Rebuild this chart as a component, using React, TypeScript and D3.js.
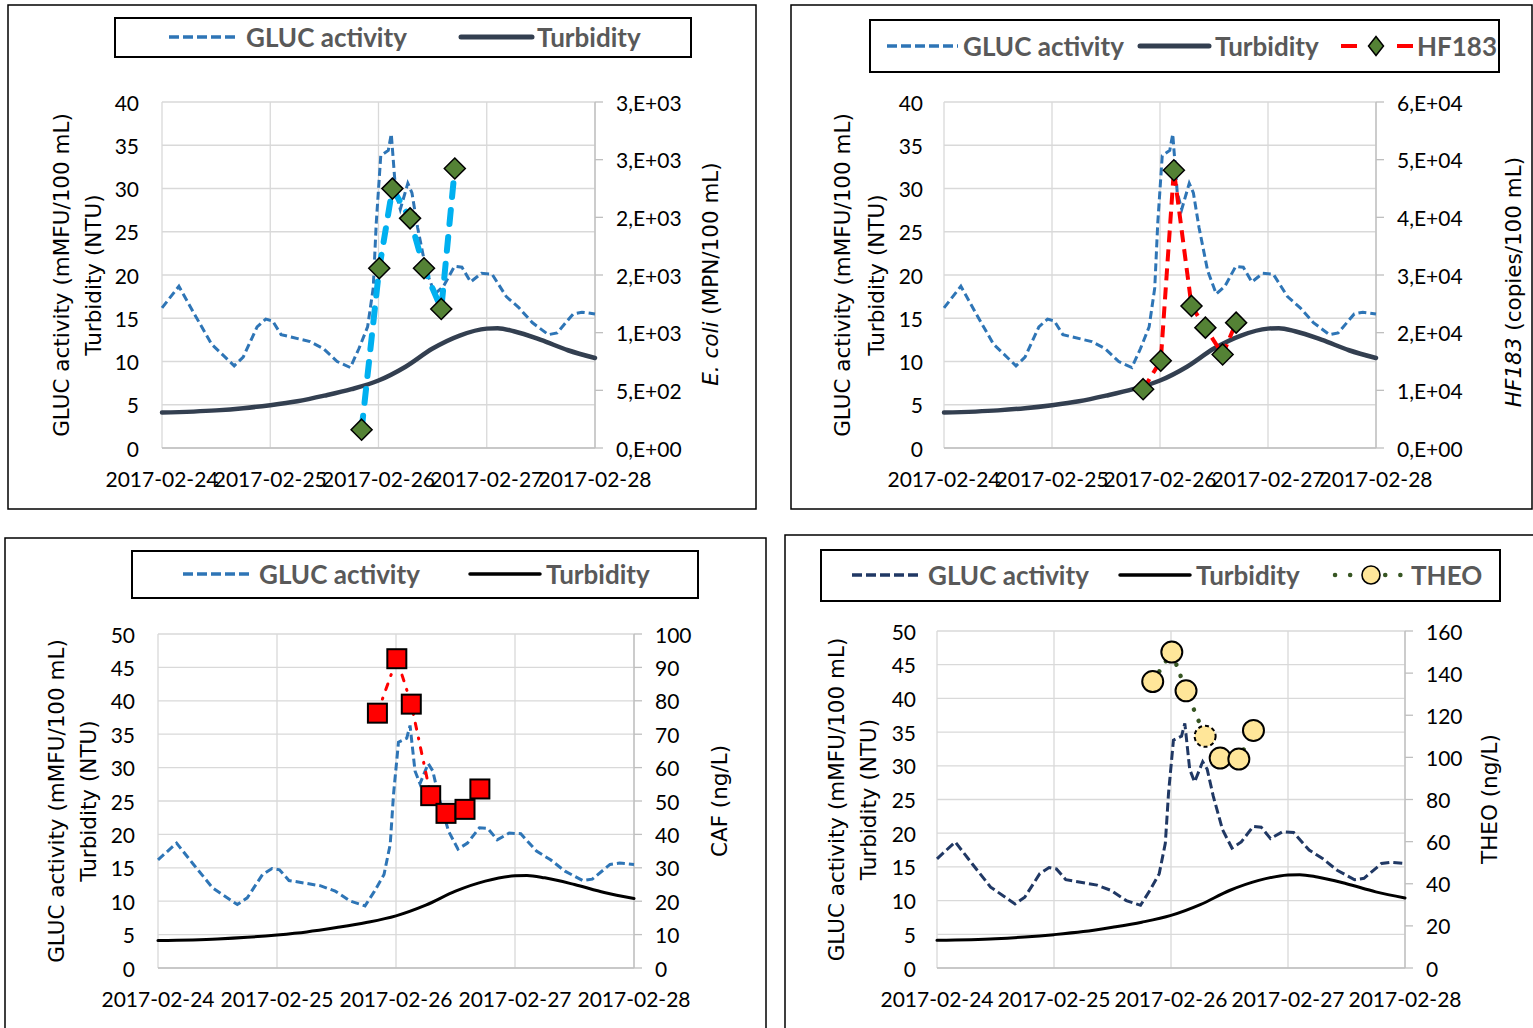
import React from 'react';
import * as d3 from 'd3';

const parseTime = d3.timeParse('%Y-%m-%d %H:%M');

// --- GLUC activity (online sensor) ---
const glucTimes = [
  '2017-02-24 00:00', '2017-02-24 03:45', '2017-02-24 07:10', '2017-02-24 11:00', '2017-02-24 16:00',
  '2017-02-24 18:00', '2017-02-24 21:05', '2017-02-24 23:00', '2017-02-25 00:30', '2017-02-25 02:25',
  '2017-02-25 04:50', '2017-02-25 08:50', '2017-02-25 11:45', '2017-02-25 14:50', '2017-02-25 17:45',
  '2017-02-25 19:40', '2017-02-25 21:35', '2017-02-25 22:50', '2017-02-25 23:30', '2017-02-26 00:30',
  '2017-02-26 02:10', '2017-02-26 02:50', '2017-02-26 03:50', '2017-02-26 04:50', '2017-02-26 06:30',
  '2017-02-26 07:25', '2017-02-26 08:40', '2017-02-26 10:35', '2017-02-26 12:30', '2017-02-26 14:25',
  '2017-02-26 16:50', '2017-02-26 18:30', '2017-02-26 20:25', '2017-02-26 22:50', '2017-02-27 01:10',
  '2017-02-27 04:20', '2017-02-27 07:10', '2017-02-27 10:05', '2017-02-27 13:40', '2017-02-27 15:35',
  '2017-02-27 19:10', '2017-02-27 21:05', '2017-02-28 00:00',
];
const glucValues = [
  16.2, 18.7, 15.5, 12.0, 9.5,
  10.5, 14.0, 14.9, 14.7, 13.1,
  12.8, 12.3, 11.5, 10.0, 9.3,
  11.5, 14.0, 18.5, 26.0, 33.8,
  34.4, 36.3, 29.5, 27.6, 30.6,
  29.5, 25.5, 20.5, 17.8, 18.7,
  21.0, 20.9, 19.2, 20.2, 20.1,
  17.5, 16.2, 14.5, 13.1, 13.3,
  15.5, 15.7, 15.5,
];

// --- Turbidity ---
const turbTimes = [
  '2017-02-24 00:00', '2017-02-24 12:00', '2017-02-24 18:00', '2017-02-25 00:00', '2017-02-25 06:00',
  '2017-02-25 12:00', '2017-02-25 18:00', '2017-02-26 00:00', '2017-02-26 06:00', '2017-02-26 12:00',
  '2017-02-26 18:00', '2017-02-27 00:00', '2017-02-27 02:25', '2017-02-27 06:00', '2017-02-27 12:00',
  '2017-02-27 18:00', '2017-02-28 00:00',
];
const turbValues = [
  4.1, 4.35, 4.6, 4.95, 5.4,
  6.05, 6.8, 7.8, 9.4, 11.5,
  13.0, 13.8, 13.85, 13.5, 12.5,
  11.3, 10.4,
];

// --- grab samples ---
const sampleTimes = [
  '2017-02-25 20:15', '2017-02-26 00:10', '2017-02-26 03:05', '2017-02-26 07:00',
  '2017-02-26 10:05', '2017-02-26 13:55', '2017-02-26 16:55',
];
const ecoliValues = [159, 1559, 2249, 1991, 1559, 1206, 2423];
const hf183Values = [10200, 15130, 48170, 24640, 20870, 16230, 21740];
const cafValues = [76.3, 92.6, 79, 51.6, 46.3, 47.5, 53.6];
const theoValues = [136, 150, 131.6, 110, 99.7, 99.2, 112.8];

// --- axes ---
const dateLabels = ['2017-02-24', '2017-02-25', '2017-02-26', '2017-02-27', '2017-02-28'];
const leftTicksTop = [0, 5, 10, 15, 20, 25, 30, 35, 40];
const leftTicksBottom = [0, 5, 10, 15, 20, 25, 30, 35, 40, 45, 50];
const ecoliTicks = [0, 500, 1000, 1500, 2000, 2500, 3000];
const ecoliTickLabels = ['0,E+00', '5,E+02', '1,E+03', '2,E+03', '2,E+03', '3,E+03', '3,E+03'];
const hf183Ticks = [0, 10000, 20000, 30000, 40000, 50000, 60000];
const hf183TickLabels = ['0,E+00', '1,E+04', '2,E+04', '3,E+04', '4,E+04', '5,E+04', '6,E+04'];
const cafTicks = [0, 10, 20, 30, 40, 50, 60, 70, 80, 90, 100];
const theoTicks = [0, 20, 40, 60, 80, 100, 120, 140, 160];

const TICK_FONT = 'Lato, sans-serif';
const LEGEND_FONT = 'Lato, sans-serif';
const TITLE_FONT = '"DejaVu Sans", Verdana, sans-serif';

type Pt = { t: Date; v: number };
const zip = (times: string[], vals: number[]): Pt[] =>
  times.map((s, i) => ({ t: parseTime(s) as Date, v: vals[i] }));

const glucData = zip(glucTimes, glucValues);
const turbData = zip(turbTimes, turbValues);

type MarkerKind = 'diamond' | 'square' | 'circle';

const Marker = ({ kind, x, y, dashed = false, small = false }: { kind: MarkerKind; x: number; y: number; dashed?: boolean; small?: boolean }) => {
  if (kind === 'diamond') {
    const sx = small ? 7.5 : 10.5;
    const sy = small ? 9.5 : 10.5;
    return <path d={`M${x},${y - sy}L${x + sx},${y}L${x},${y + sy}L${x - sx},${y}Z`} fill="#548235" stroke="#000" strokeWidth={1.5} />;
  }
  if (kind === 'square') {
    const s = 9.5;
    return <rect x={x - s} y={y - s} width={2 * s} height={2 * s} fill="#FF0000" stroke="#000" strokeWidth={2} />;
  }
  return (
    <circle cx={x} cy={y} r={small ? 9 : 10.5} fill="#FFE699" stroke="#000"
      strokeWidth={small ? 1.6 : 2} strokeDasharray={dashed ? '4 3' : undefined} />
  );
};

type LegendItem = { kind: 'gluc' | 'turb' | 'hf' | 'theo'; x0: number; x1: number; tx: number; label: string; mx?: number };

type PanelProps = {
  frame: [number, number, number, number];
  legendBox: [number, number, number, number];
  legendY: number;
  legendItems: LegendItem[];
  plot: [number, number, number, number];
  leftMax: number;
  leftTicks: number[];
  leftLabelRight: number;
  leftTitleX: [number, number];
  rightMax: number;
  rightTicks: number[];
  rightLabels: string[];
  rightTitle: React.ReactNode;
  rightTitleX: number;
  rightTitleY: number;
  glucColor: string;
  glucDash: string;
  turbColor: string;
  turbWidth: number;
  sample: {
    values: number[];
    color: string;
    width: number;
    dash: string;
    cap: 'round' | 'butt';
    marker: MarkerKind;
    dashedIndex?: number;
  };
};

const Panel = (p: PanelProps) => {
  const [px0, py0, px1, py1] = p.plot;
  const x = d3.scaleTime()
    .domain([parseTime('2017-02-24 00:00') as Date, parseTime('2017-02-28 00:00') as Date])
    .range([px0, px1]);
  const yL = d3.scaleLinear().domain([0, p.leftMax]).range([py1, py0]);
  const yR = d3.scaleLinear().domain([0, p.rightMax]).range([py1, py0]);

  const lineL = d3.line<Pt>().x(d => x(d.t)).y(d => yL(d.v));
  const turbLine = d3.line<Pt>().x(d => x(d.t)).y(d => yL(d.v)).curve(d3.curveMonotoneX);
  const sampleData = zip(sampleTimes, p.sample.values);
  const lineR = d3.line<Pt>().x(d => x(d.t)).y(d => yR(d.v));

  const cy = (py0 + py1) / 2;
  const [fx, fy, fw, fh] = p.frame;
  const [lx0, ly0, lx1, ly1] = p.legendBox;

  return (
    <g>
      <rect x={fx} y={fy} width={fw} height={fh} fill="#fff" stroke="#000" strokeWidth={1.5} />

      {/* gridlines */}
      {p.leftTicks.map(t => (
        <line key={`h${t}`} x1={px0} x2={px1} y1={yL(t)} y2={yL(t)} stroke="#D9D9D9" strokeWidth={1.3} />
      ))}
      {dateLabels.map(d => {
        const xx = x(parseTime(d + ' 00:00') as Date);
        return <line key={`v${d}`} x1={xx} x2={xx} y1={py0} y2={py1} stroke="#D9D9D9" strokeWidth={1.3} />;
      })}
      {/* right axis with outward ticks */}
      <line x1={px1} x2={px1} y1={py0} y2={py1} stroke="#BFBFBF" strokeWidth={1.3} />
      <line x1={px0} x2={px1} y1={py1} y2={py1} stroke="#BFBFBF" strokeWidth={1.3} />
      {p.rightTicks.map(t => (
        <line key={`rt${t}`} x1={px1} x2={px1 + 8} y1={yR(t)} y2={yR(t)} stroke="#BFBFBF" strokeWidth={1.3} />
      ))}

      {/* tick labels */}
      {p.leftTicks.map(t => (
        <text key={`lt${t}`} x={p.leftLabelRight} y={yL(t)} textAnchor="end" dominantBaseline="central"
          fontFamily={TICK_FONT} fontSize={21} fill="#000">{t}</text>
      ))}
      {p.rightTicks.map((t, i) => (
        <text key={`rl${t}`} x={px1 + 21} y={yR(t)} textAnchor="start" dominantBaseline="central"
          fontFamily={TICK_FONT} fontSize={21} fill="#000">{p.rightLabels[i]}</text>
      ))}
      {dateLabels.map(d => (
        <text key={`xl${d}`} x={x(parseTime(d + ' 00:00') as Date)} y={py1 + 30} textAnchor="middle"
          dominantBaseline="central" fontFamily={TICK_FONT} fontSize={21} fill="#000">{d}</text>
      ))}

      {/* axis titles */}
      <text transform={`translate(${p.leftTitleX[0]},${cy}) rotate(-90)`} textAnchor="middle" dominantBaseline="central"
        fontFamily={TITLE_FONT} fontSize={21.5} fill="#000">GLUC activity (mMFU/100 mL)</text>
      <text transform={`translate(${p.leftTitleX[1]},${cy}) rotate(-90)`} textAnchor="middle" dominantBaseline="central"
        fontFamily={TITLE_FONT} fontSize={21.5} fill="#000">Turbidity (NTU)</text>
      <text transform={`translate(${p.rightTitleX},${p.rightTitleY}) rotate(-90)`} textAnchor="middle" dominantBaseline="central"
        fontFamily={TITLE_FONT} fontSize={21.5} fill="#000">{p.rightTitle}</text>

      {/* series */}
      <path d={lineL(glucData) ?? ''} fill="none" stroke={p.glucColor} strokeWidth={3} strokeDasharray={p.glucDash} />
      <path d={turbLine(turbData) ?? ''} fill="none" stroke={p.turbColor} strokeWidth={p.turbWidth} strokeLinecap="round" />
      <path d={lineR(sampleData) ?? ''} fill="none" stroke={p.sample.color} strokeWidth={p.sample.width}
        strokeDasharray={p.sample.dash} strokeLinecap={p.sample.cap} strokeLinejoin="round" />
      {sampleData.map((d, i) => (
        <Marker key={`m${i}`} kind={p.sample.marker} x={x(d.t)} y={yR(d.v)} dashed={p.sample.dashedIndex === i} />
      ))}

      {/* legend */}
      <rect x={lx0} y={ly0} width={lx1 - lx0} height={ly1 - ly0} fill="#fff" stroke="#000" strokeWidth={2} />
      {p.legendItems.map(it => (
        <g key={it.label}>
          {it.kind === 'gluc' && (
            <line x1={it.x0} x2={it.x1} y1={p.legendY} y2={p.legendY} stroke={p.glucColor} strokeWidth={3.5} strokeDasharray="10 4" />
          )}
          {it.kind === 'turb' && (
            <line x1={it.x0} x2={it.x1} y1={p.legendY} y2={p.legendY} stroke={p.turbColor} strokeWidth={p.turbWidth + 0.5} strokeLinecap="round" />
          )}
          {it.kind === 'hf' && (
            <>
              <line x1={it.x0} x2={it.x1} y1={p.legendY} y2={p.legendY} stroke="#FF0000" strokeWidth={4} strokeDasharray="16 40 16" />
              <Marker kind="diamond" x={it.mx as number} y={p.legendY} small />
            </>
          )}
          {it.kind === 'theo' && (
            <>
              <line x1={it.x0} x2={it.x1} y1={p.legendY} y2={p.legendY} stroke="#375623" strokeWidth={4.5}
                strokeDasharray="0.1 15 0.1 35 0.1 15" strokeLinecap="round" />
              <Marker kind="circle" x={it.mx as number} y={p.legendY} small />
            </>
          )}
          <text x={it.tx} y={p.legendY} dominantBaseline="central" fontFamily={LEGEND_FONT} fontWeight={700}
            fontSize={26} fill="#595959">{it.label}</text>
        </g>
      ))}
    </g>
  );
};

const App = () => (
  <svg width={1533} height={1028} style={{ position: 'fixed', left: 0, top: 0, background: '#fff' }}>
    <Panel
      frame={[8, 5, 748, 504]}
      legendBox={[115, 18, 691, 57]}
      legendY={37}
      legendItems={[
        { kind: 'gluc', x0: 169, x1: 239, tx: 246, label: 'GLUC activity' },
        { kind: 'turb', x0: 461, x1: 532, tx: 537, label: 'Turbidity' },
      ]}
      plot={[162, 102, 595, 448]}
      leftMax={40}
      leftTicks={leftTicksTop}
      leftLabelRight={139}
      leftTitleX={[61, 93]}
      rightMax={3000}
      rightTicks={ecoliTicks}
      rightLabels={ecoliTickLabels}
      rightTitle={<><tspan fontStyle="italic">E. coli</tspan>{' (MPN/100 mL)'}</>}
      rightTitleX={710}
      rightTitleY={274}
      glucColor="#2E75B6"
      glucDash="8 4"
      turbColor="#333F50"
      turbWidth={4.5}
      sample={{ values: ecoliValues, color: '#00B0F0', width: 6, dash: '14 13', cap: 'round', marker: 'diamond' }}
    />
    <Panel
      frame={[791, 5, 741, 504]}
      legendBox={[870, 20, 1499, 72]}
      legendY={46}
      legendItems={[
        { kind: 'gluc', x0: 887, x1: 958, tx: 963, label: 'GLUC activity' },
        { kind: 'turb', x0: 1140, x1: 1209, tx: 1215, label: 'Turbidity' },
        { kind: 'hf', x0: 1341, x1: 1413, mx: 1376, tx: 1417, label: 'HF183' },
      ]}
      plot={[944, 102, 1376, 448]}
      leftMax={40}
      leftTicks={leftTicksTop}
      leftLabelRight={923}
      leftTitleX={[842, 876]}
      rightMax={60000}
      rightTicks={hf183Ticks}
      rightLabels={hf183TickLabels}
      rightTitle={<><tspan fontStyle="italic">HF183</tspan>{' (copies/100 mL)'}</>}
      rightTitleX={1513}
      rightTitleY={282}
      glucColor="#2E75B6"
      glucDash="8 4"
      turbColor="#333F50"
      turbWidth={4.5}
      sample={{ values: hf183Values, color: '#FF0000', width: 4, dash: '12 7', cap: 'butt', marker: 'diamond' }}
    />
    <Panel
      frame={[5, 538, 761, 500]}
      legendBox={[132, 551, 698, 598]}
      legendY={574}
      legendItems={[
        { kind: 'gluc', x0: 183, x1: 253, tx: 259, label: 'GLUC activity' },
        { kind: 'turb', x0: 470, x1: 540, tx: 546, label: 'Turbidity' },
      ]}
      plot={[158, 634, 634, 968]}
      leftMax={50}
      leftTicks={leftTicksBottom}
      leftLabelRight={135}
      leftTitleX={[56.5, 88]}
      rightMax={100}
      rightTicks={cafTicks}
      rightLabels={cafTicks.map(String)}
      rightTitle="CAF (ng/L)"
      rightTitleX={719.5}
      rightTitleY={801}
      glucColor="#2E75B6"
      glucDash="8 4"
      turbColor="#000"
      turbWidth={3}
      sample={{ values: cafValues, color: '#FF0000', width: 3, dash: '6 9 1 9', cap: 'round', marker: 'square' }}
    />
    <Panel
      frame={[785, 535, 760, 510]}
      legendBox={[821, 550, 1500, 601]}
      legendY={575}
      legendItems={[
        { kind: 'gluc', x0: 852, x1: 922, tx: 928, label: 'GLUC activity' },
        { kind: 'turb', x0: 1120, x1: 1190, tx: 1196, label: 'Turbidity' },
        { kind: 'theo', x0: 1335, x1: 1401, mx: 1371, tx: 1411, label: 'THEO' },
      ]}
      plot={[937, 631, 1405, 968]}
      leftMax={50}
      leftTicks={leftTicksBottom}
      leftLabelRight={916}
      leftTitleX={[836, 868]}
      rightMax={160}
      rightTicks={theoTicks}
      rightLabels={theoTicks.map(String)}
      rightTitle="THEO (ng/L)"
      rightTitleX={1489}
      rightTitleY={799}
      glucColor="#203864"
      glucDash="9 4"
      turbColor="#000"
      turbWidth={3}
      sample={{ values: theoValues, color: '#375623', width: 4.5, dash: '0.1 12', cap: 'round', marker: 'circle', dashedIndex: 3 }}
    />
  </svg>
);

export default App;
